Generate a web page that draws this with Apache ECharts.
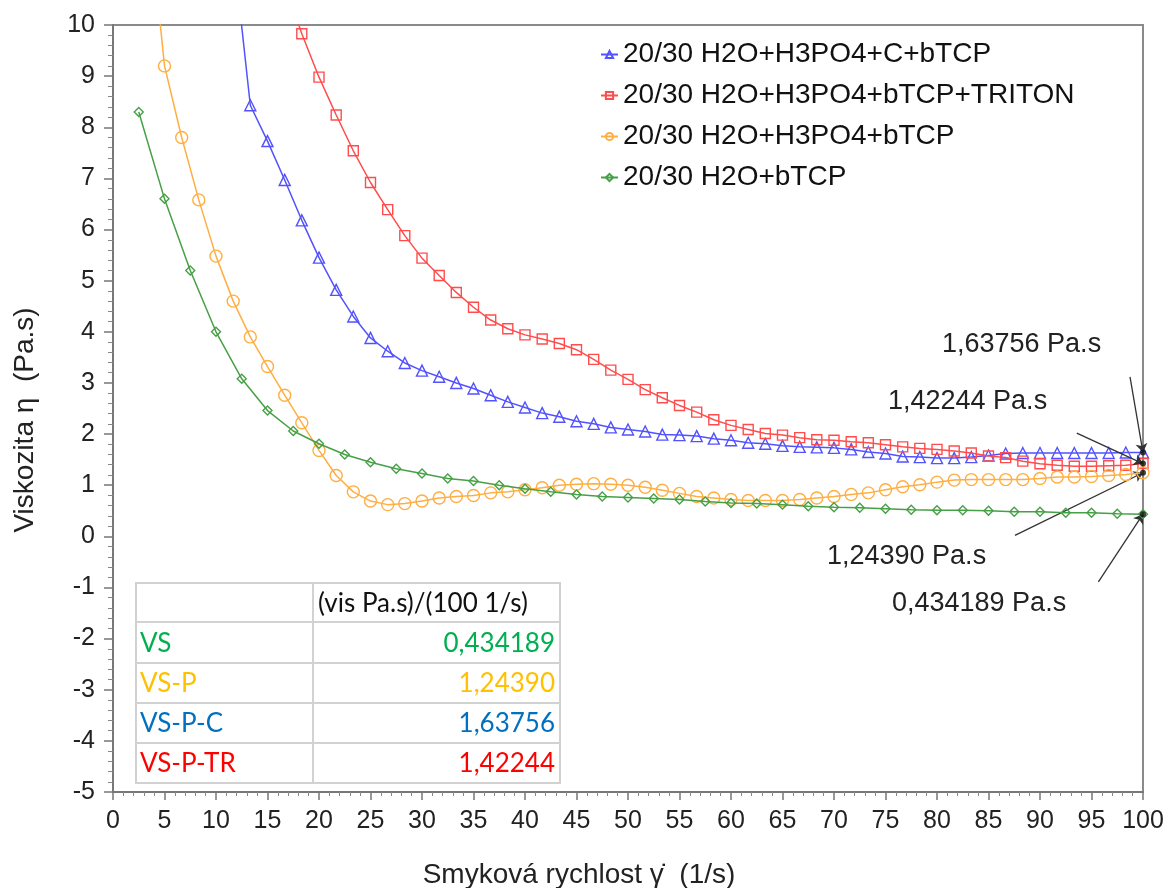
<!DOCTYPE html>
<html>
<head>
<meta charset="utf-8">
<script src="https://cdn.jsdelivr.net/npm/echarts@6/dist/echarts.min.js"></script>
<style>
html,body{margin:0;padding:0;background:#fff;}
#chart{width:1171px;height:888px;}
</style>
</head>
<body>
<div id="chart"></div>
<script>
// ---- DATA ----
const seriesNames = [
  '20/30 H2O+H3PO4+C+bTCP',
  '20/30 H2O+H3PO4+bTCP+TRITON',
  '20/30 H2O+H3PO4+bTCP',
  '20/30 H2O+bTCP'
];
// shear rate (1/s) for the 60-point measurements
const shearRateFine = [1.67,3.33,5,6.67,8.33,10,11.67,13.33,15,16.67,18.33,20,21.67,23.33,25,26.67,28.33,30,
  31.67,33.33,35,36.67,38.33,40,41.67,43.33,45,46.67,48.33,50,51.67,53.33,55,56.67,58.33,60,
  61.67,63.33,65,66.67,68.33,70,71.67,73.33,75,76.67,78.33,80,81.67,83.33,85,86.67,88.33,90,
  91.67,93.33,95,96.67,98.33,100];
// shear rate (1/s) for the 40-point measurement
const shearRateCoarse = [2.5,5,7.5,10,12.5,15,17.5,20,22.5,25,27.5,30,32.5,35,37.5,40,42.5,45,47.5,50,
  52.5,55,57.5,60,62.5,65,67.5,70,72.5,75,77.5,80,82.5,85,87.5,90,92.5,95,97.5,100];

const viscVSPC = [null,null,null,null,null,null,11.5,8.43,7.73,6.97,6.18,5.45,
  4.82,4.30,3.88,3.62,3.39,3.24, 3.12,3.00,2.89,2.76,2.63,2.52, 2.41,2.34,2.25,2.20,2.13,2.09,
  2.05,1.99,1.98,1.96,1.91,1.88, 1.83,1.81,1.77,1.75,1.74,1.73, 1.70,1.65,1.62,1.56,1.55,1.53,
  1.53,1.55,1.58,1.62,1.63,1.63, 1.63,1.63,1.63,1.63,1.64,1.63756];
const viscVSPTR = [null,null,null,null,null,null,null,null,null,10.8,9.83,8.98,
  8.24,7.54,6.92,6.39,5.88,5.44, 5.10,4.77,4.48,4.23,4.06,3.94, 3.86,3.77,3.65,3.46,3.25,3.07,
  2.87,2.71,2.56,2.43,2.28,2.17, 2.09,2.01,1.98,1.93,1.89,1.88, 1.85,1.83,1.79,1.75,1.72,1.70,
  1.67,1.63,1.57,1.54,1.47,1.42, 1.39,1.37,1.37,1.38,1.39,1.42244];
const viscVSP = [null,12.5,9.2,7.8,6.58,5.48, 4.6,3.9,3.32,2.76,2.22,1.68,
  1.19,0.87,0.69,0.62,0.64,0.69, 0.75,0.78,0.80,0.85,0.87,0.91, 0.95,1.00,1.02,1.03,1.02,1.00,
  0.96,0.90,0.84,0.78,0.75,0.72, 0.70,0.70,0.70,0.72,0.75,0.78, 0.82,0.85,0.91,0.97,1.01,1.06,
  1.10,1.11,1.11,1.11,1.11,1.13, 1.16,1.16,1.17,1.19,1.21,1.2439];
const viscVS = [8.3,6.6,5.2,4.0,3.08,2.46,2.06,1.81,1.60,1.45,1.32,1.23,1.13,1.08,1.00,0.93,0.87,0.82,
  0.78,0.76,0.74,0.72,0.68,0.65,0.64,0.62,0.59,0.57,0.56,0.54,0.52,0.51,0.51,0.50,0.48,0.48,
  0.46,0.46,0.44,0.434189];

const tableHeader = '(vis Pa.s)/(100 1/s)';
const tableLabels = ['VS','VS-P','VS-P-C','VS-P-TR'];
const tableValues = ['0,434189','1,24390','1,63756','1,42244'];

// ---- STYLE / LAYOUT ----
const FONT = '"Liberation Sans", Arial, sans-serif';
const TFONT = 'Lato, "Open Sans", sans-serif';
const colors = ['#5252FF','#FF4D4D','#FFAE42','#46A046'];
const tableColors = ['#00B050','#FFC000','#0070C0','#FF0000'];
const symbols = ['triangle','rect','circle','diamond'];
const symSizes = [11,10,12,9];

const pairs = (xs, ys) => xs.map((x,i)=>[x, ys[i]]);
const seriesData = [
  pairs(shearRateFine, viscVSPC),
  pairs(shearRateFine, viscVSPTR),
  pairs(shearRateFine, viscVSP),
  pairs(shearRateCoarse, viscVS)
];

// endpoints at 100 1/s
const lastOf = a => a[a.length-1];
const endpointData = [
  [lastOf(shearRateFine), lastOf(viscVSPC)],
  [lastOf(shearRateFine), lastOf(viscVSPTR)],
  [lastOf(shearRateFine), lastOf(viscVSP)],
  [lastOf(shearRateCoarse), lastOf(viscVS)]
];
// annotation arrow tails (data space) and text placement (pixels)
const arrowTails = [[98.74,3.12],[93.57,2.02],[87.57,0.02],[95.67,-0.89]];
const annotTextPos = [[942,345],[888,402],[827,557],[892,604]];
const annotValueIdx = [2,3,1,0]; // into tableValues for VS-P-C, VS-P-TR, VS-P, VS

const chart = echarts.init(document.getElementById('chart'), null, {renderer:'canvas'});

const lineSeries = seriesNames.map((name,i)=>({
  name: name,
  type: 'line',
  data: seriesData[i],
  symbol: symbols[i],
  symbolSize: symSizes[i],
  showAllSymbol: true,
  connectNulls: false,
  clip: true,
  lineStyle: {color: colors[i], width: 1.5},
  itemStyle: {color: 'rgba(255,255,255,0)', borderColor: colors[i], borderWidth: 1.4},
  emphasis: {disabled: true},
  z: 3 + i
}));

const endpointSeries = {
  name: 'endpoints',
  type: 'scatter',
  data: endpointData,
  symbol: 'circle',
  symbolSize: 6,
  itemStyle: {color: '#111'},
  clip: false,
  z: 10,
  emphasis: {disabled: true},
  markLine: {
    silent: true,
    symbol: ['none','arrow'],
    symbolSize: 9,
    label: {show: false},
    lineStyle: {color: '#333', width: 1.3, type: 'solid'},
    emphasis: {disabled: true},
    data: [
      [{coord: arrowTails[0]}, {coord: endpointData[0]}],
      [{coord: arrowTails[1]}, {coord: endpointData[1]}],
      [{coord: arrowTails[2]}, {coord: endpointData[2]}],
      [{coord: arrowTails[3]}, {coord: endpointData[3]}]
    ]
  }
};

// table graphic
const tX = 136, tY = 583, tW = 424, colX = 313;
const rowY = [583, 622, 663, 703, 743, 783];
const tableEls = [];
tableEls.push({type:'rect', shape:{x:tX, y:tY, width:tW, height:rowY[5]-tY},
  style:{fill:'#fff', stroke:'#D2D2D2', lineWidth:2}, z:50});
for (let r=1; r<5; r++) {
  tableEls.push({type:'line', shape:{x1:tX, y1:rowY[r], x2:tX+tW, y2:rowY[r]},
    style:{stroke:'#D2D2D2', lineWidth:2}, z:51});
}
tableEls.push({type:'line', shape:{x1:colX, y1:tY, x2:colX, y2:rowY[5]},
  style:{stroke:'#D2D2D2', lineWidth:2}, z:51});
tableEls.push({type:'text', x:318, y:(rowY[0]+rowY[1])/2+1,
  style:{text:tableHeader, font:'26px '+TFONT, fill:'#111', align:'left', verticalAlign:'middle'}, z:52});
tableLabels.forEach((lab,i)=>{
  const cy = (rowY[i+1]+rowY[i+2])/2+1;
  tableEls.push({type:'text', x:140, y:cy,
    style:{text:lab, font:'26px '+TFONT, fill:tableColors[i], align:'left', verticalAlign:'middle'}, z:52});
  tableEls.push({type:'text', x:555, y:cy,
    style:{text:tableValues[i], font:'26px '+TFONT, fill:tableColors[i], align:'right', verticalAlign:'middle'}, z:52});
});

const annotEls = annotTextPos.map((p,i)=>({
  type:'text', x:p[0], y:p[1],
  style:{text: tableValues[annotValueIdx[i]] + ' Pa.s', font:'27px '+FONT, fill:'#222', align:'left', verticalAlign:'middle'},
  z:40
}));

const titleEls = [
  {type:'text', x:579, y:875, style:{text:'Smyková rychlost \u03B3\u0307  (1/s)', font:'28px '+FONT, fill:'#222', align:'center', verticalAlign:'middle'}},
  {type:'text', x:25, y:420, rotation:Math.PI/2, style:{text:'Viskozita \u03B7  (Pa.s)', font:'28px '+FONT, fill:'#222', align:'center', verticalAlign:'middle'}}
];

const option = {
  animation: false,
  backgroundColor: '#fff',
  grid: {left:113, right:28, top:25, bottom:96, show:true, borderColor:'#8a8a8a', borderWidth:2, backgroundColor:'transparent'},
  legend: {
    data: seriesNames,
    orient: 'vertical',
    left: 600,
    top: 40,
    padding: 0,
    itemWidth: 17,
    itemHeight: 9,
    itemGap: 12,
    selectedMode: false,
    textStyle: {fontFamily: FONT, fontSize: 28, color: '#111', lineHeight: 29}
  },
  xAxis: {
    type:'value', min:0, max:100, interval:5,
    axisLine:{show:true, onZero:false, lineStyle:{color:'#777', width:2}},
    axisTick:{show:true, length:8, lineStyle:{color:'#777', width:1.5}},
    minorTick:{show:true, splitNumber:5, length:4, lineStyle:{color:'#888', width:1}},
    splitLine:{show:false},
    axisLabel:{fontFamily:FONT, fontSize:25, color:'#222', margin:17}
  },
  yAxis: {
    type:'value', min:-5, max:10, interval:1,
    axisLine:{show:true, onZero:false, lineStyle:{color:'#777', width:2}},
    axisTick:{show:true, length:9, lineStyle:{color:'#777', width:1.5}},
    minorTick:{show:true, splitNumber:5, length:5, lineStyle:{color:'#888', width:1}},
    splitLine:{show:false},
    axisLabel:{fontFamily:FONT, fontSize:25, color:'#222', margin:18}
  },
  series: lineSeries.concat([endpointSeries]),
  graphic: titleEls.concat(annotEls).concat(tableEls)
};
chart.setOption(option);
</script>
</body>
</html>
